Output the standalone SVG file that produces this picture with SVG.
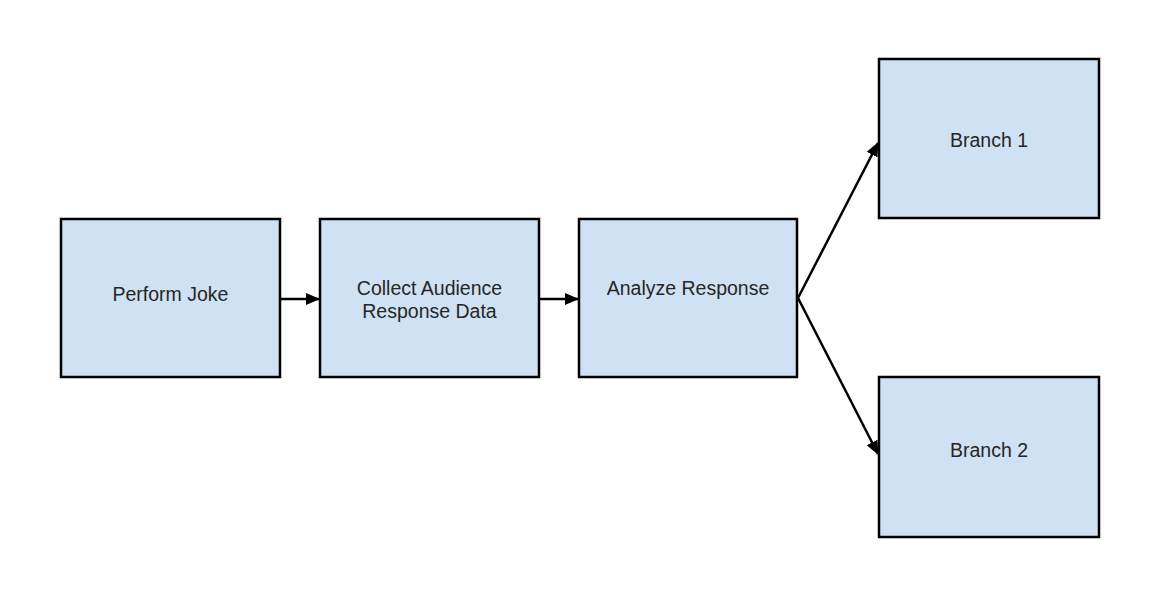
<svg xmlns="http://www.w3.org/2000/svg" width="1164" height="597" viewBox="0 0 1164 597">
<defs>
<style>
.box{fill:#cfe2f3;stroke:#000;stroke-width:2.5}
.lbl{font-family:"Liberation Sans",Arial,sans-serif;font-size:19.5px;fill:#262626;text-anchor:middle}
.edge{stroke:#000;stroke-width:2.5;fill:none}
</style>
<marker id="ah" viewBox="0 0 14 12" refX="13" refY="6" markerWidth="14" markerHeight="12" markerUnits="userSpaceOnUse" orient="auto">
<path d="M0,0 L14,6 L0,12 Z" fill="#000"/>
</marker>
</defs>
<rect width="1164" height="597" fill="#fff"/>
<g id="connectors">
<line class="edge" x1="281" y1="299" x2="319" y2="299" marker-end="url(#ah)"/>
<line class="edge" x1="540" y1="299" x2="578" y2="299" marker-end="url(#ah)"/>
<line class="edge" x1="798" y1="298" x2="878" y2="143" marker-end="url(#ah)"/>
<line class="edge" x1="798" y1="298" x2="878" y2="454" marker-end="url(#ah)"/>
</g>
<g id="perform-joke">
<rect class="box" x="61" y="219" width="219" height="158"/>
<text class="lbl" x="170.5" y="301">Perform Joke</text>
</g>
<g id="collect-data">
<rect class="box" x="320" y="219" width="219" height="158"/>
<text class="lbl" x="429.5" y="295">Collect Audience</text>
<text class="lbl" x="429.5" y="318">Response Data</text>
</g>
<g id="analyze-response">
<rect class="box" x="579" y="219" width="218" height="158"/>
<text class="lbl" x="688" y="295">Analyze Response</text>
</g>
<g id="branch-1">
<rect class="box" x="879" y="59" width="220" height="159"/>
<text class="lbl" x="989" y="147">Branch 1</text>
</g>
<g id="branch-2">
<rect class="box" x="879" y="377" width="220" height="160"/>
<text class="lbl" x="989" y="457">Branch 2</text>
</g>
</svg>
